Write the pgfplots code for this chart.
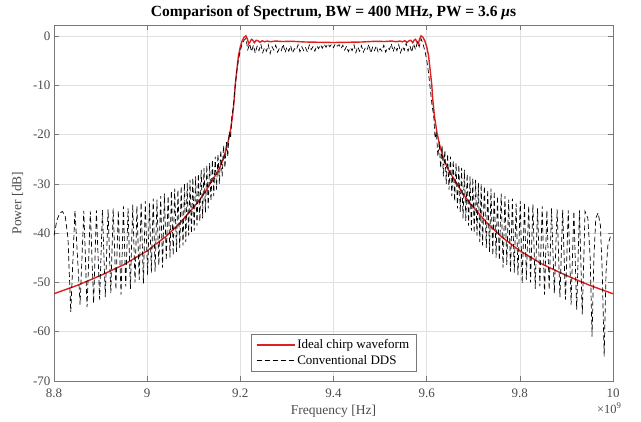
\documentclass[border=0pt]{standalone}
\usepackage{fontspec}
\setmainfont{Liberation Serif}
\usepackage{pgfplots}
\pgfplotsset{compat=1.18}
\definecolor{idealred}{RGB}{222,32,32}
\definecolor{axgray}{RGB}{120,120,120}
\definecolor{txtgray}{RGB}{75,75,75}
\begin{document}
\begin{tikzpicture}
\begin{axis}[
 scale only axis, width=559pt, height=356pt,
 xmin=8.8, xmax=10, ymin=-70, ymax=2.2,
 xtick={8.8,9,9.2,9.4,9.6,9.8,10},
 ytick={-70,-60,-50,-40,-30,-20,-10,0},
 grid=major, major grid style={black!12, line width=0.4pt},
 axis line style={axgray, line width=0.6pt},
 major tick length=5pt, tick style={axgray, line width=0.5pt},
 /pgf/number format/assume math mode=true,
 ticklabel style={font=\fontsize{13}{15}\selectfont, text=txtgray},
 xticklabel style={yshift=-4pt},
 xlabel={Frequency [Hz]}, ylabel={Power [dB]},
 xlabel style={yshift=-1pt},
 ylabel style={yshift=3pt},
 label style={font=\fontsize{13.5}{16}\selectfont, text=txtgray},
 title={Comparison of Spectrum, BW = 400 MHz, PW = 3.6 \textit{μ}s},
 title style={font=\fontsize{15.5}{18}\selectfont\bfseries, yshift=-4pt},
 legend style={at={(0.5,0.028)}, anchor=south, draw=axgray, font=\fontsize{13}{15}\selectfont, row sep=1pt, inner xsep=5pt, inner ysep=3pt},
 legend cell align=left,
 legend image code/.code={\draw[#1] (0pt,0pt) -- (38pt,0pt);},
]
\addplot[draw=idealred, line width=1.4pt] coordinates {
(8.800,-52.3) (8.850,-50.6) (8.900,-48.6) (8.950,-46.4) (9.000,-43.6) (9.040,-40.7) (9.070,-38.0) (9.092,-35.6) (9.110,-33.6) (9.125,-31.6) (9.135,-30.0) (9.145,-28.5) (9.155,-26.9) (9.164,-24.8) (9.172,-22.2) (9.178,-19.6) (9.183,-16.5) (9.187,-12.8) (9.189,-10.0) (9.193,-6.5) (9.196,-4.0) (9.200,-2.2) (9.204,-1.0) (9.208,-0.3) (9.212,0.0) (9.215,-0.6) (9.218,-1.6) (9.221,-1.2) (9.224,-0.7) (9.227,-0.9) (9.230,-1.4) (9.234,-0.9) (9.238,-1.0) (9.242,-1.3) (9.247,-1.0) (9.252,-1.2) (9.258,-1.05) (9.265,-1.2) (9.275,-1.05) (9.290,-1.15) (9.310,-1.1) (9.340,-1.25) (9.370,-1.3) (9.400,-1.35)
(9.430,-1.3) (9.460,-1.25) (9.490,-1.1) (9.510,-1.15) (9.525,-1.05) (9.535,-1.2) (9.542,-1.05) (9.548,-1.2) (9.553,-1.0) (9.558,-1.3) (9.562,-1.0) (9.566,-0.9) (9.570,-1.4) (9.573,-0.9) (9.576,-0.7) (9.579,-1.2) (9.582,-1.6) (9.585,-0.6) (9.588,0.0) (9.592,-0.3) (9.596,-1.0) (9.600,-2.2) (9.604,-4.0) (9.607,-6.5) (9.611,-10.0) (9.613,-12.8) (9.617,-16.5) (9.622,-19.6) (9.628,-22.2) (9.636,-24.8) (9.645,-26.9) (9.655,-28.5) (9.665,-30.0) (9.675,-31.6) (9.690,-33.6) (9.708,-35.6) (9.730,-38.0) (9.760,-40.7) (9.800,-43.6) (9.850,-46.4) (9.900,-48.6) (9.950,-50.6) (10.000,-52.3)
};
\addlegendentry{Ideal chirp waveform}
\addplot[draw=black, line width=0.7pt, dash pattern=on 5pt off 3pt] coordinates {
(8.800,-40.5) (8.806,-37.5) (8.812,-36.0) (8.818,-35.6) (8.824,-36.5) (8.830,-41.0) (8.836,-56.0) (8.845,-35.4) (8.856,-54.5) (8.864,-35.5) (8.871,-55.0) (8.878,-35.6) (8.885,-54.2) (8.891,-35.4) (8.898,-53.5) (8.904,-35.3) (8.910,-53.0) (8.916,-35.2) (8.922,-52.2) (8.927,-35.0) (8.933,-51.5) (8.938,-35.4) (8.944,-52.5) (8.949,-34.6) (8.954,-50.8) (8.959,-35.0) (8.964,-51.3) (8.969,-34.2) (8.974,-50.0) (8.978,-34.5) (8.983,-49.5) (8.987,-33.8) (8.992,-50.2) (8.996,-33.5) (9.001,-48.5) (9.005,-34.0) (9.009,-48.0) (9.013,-33.0) (9.017,-47.8) (9.021,-33.2) (9.025,-46.5) (9.029,-32.5) (9.033,-47.0) (9.037,-32.0) (9.041,-45.5) (9.045,-32.5) (9.049,-45.0) (9.052,-31.5) (9.056,-44.5) (9.059,-31.0) (9.063,-43.8) (9.066,-31.2) (9.070,-43.0) (9.073,-30.5) (9.077,-42.5) (9.080,-30.0) (9.083,-41.8) (9.086,-29.8) (9.089,-40.5) (9.092,-29.2) (9.095,-40.0) (9.098,-28.8) (9.101,-39.5) (9.104,-28.5) (9.107,-38.5) (9.110,-28.0) (9.113,-37.6) (9.116,-27.2) (9.119,-37.0) (9.122,-26.8) (9.125,-35.8) (9.128,-26.2) (9.131,-35.0) (9.134,-25.8) (9.137,-33.5) (9.140,-25.2) (9.143,-32.5) (9.146,-24.5) (9.149,-31.2) (9.152,-24.0) (9.155,-30.0) (9.158,-23.2) (9.161,-28.5) (9.164,-22.2) (9.167,-26.8) (9.170,-21.5) (9.173,-24.5) (9.176,-19.5) (9.179,-20.8) (9.182,-16.0) (9.185,-14.5) (9.188,-11.0) (9.192,-7.5) (9.196,-4.8) (9.200,-3.0) (9.204,-1.6) (9.208,-0.9) (9.212,-0.5)
(9.216,-2.8) (9.220,-1.6) (9.224,-3.2) (9.228,-1.9) (9.232,-3.5) (9.236,-2.1) (9.240,-3.0) (9.244,-1.7) (9.248,-3.4) (9.252,-2.4) (9.256,-3.1) (9.260,-1.8) (9.264,-3.6) (9.268,-2.2) (9.272,-2.9) (9.276,-1.9) (9.280,-3.3) (9.284,-2.5) (9.288,-3.0) (9.292,-1.7) (9.296,-3.4) (9.300,-2.3) (9.304,-3.1) (9.308,-2.0) (9.312,-3.5) (9.316,-2.6) (9.320,-2.9) (9.324,-1.8) (9.328,-3.2) (9.332,-2.2) (9.336,-3.0) (9.340,-2.4) (9.344,-3.3) (9.348,-1.9) (9.352,-2.8) (9.356,-2.2) (9.360,-3.1) (9.364,-2.0) (9.368,-2.6) (9.372,-1.8) (9.376,-2.5) (9.380,-1.7) (9.384,-2.3) (9.388,-1.6) (9.392,-2.2) (9.396,-1.7) (9.400,-2.4) (9.404,-1.6) (9.408,-2.1) (9.412,-1.8) (9.416,-2.6) (9.420,-1.9) (9.424,-2.9) (9.428,-2.1) (9.432,-3.2) (9.436,-2.4) (9.440,-3.0) (9.444,-1.8) (9.448,-3.4) (9.452,-2.2) (9.456,-3.1) (9.460,-2.0) (9.464,-3.3) (9.468,-2.5) (9.472,-2.9) (9.476,-1.7) (9.480,-3.5) (9.484,-2.3) (9.488,-3.0) (9.492,-2.0) (9.496,-3.4) (9.500,-2.6) (9.504,-3.1) (9.508,-1.9) (9.512,-3.3) (9.516,-2.4) (9.520,-2.8) (9.524,-1.6) (9.528,-3.2) (9.532,-2.1) (9.536,-3.0) (9.540,-1.8) (9.544,-3.4) (9.548,-2.2) (9.552,-2.9) (9.556,-1.5) (9.560,-3.1) (9.564,-2.0) (9.568,-3.3) (9.572,-1.6) (9.576,-2.8) (9.580,-1.3) (9.584,-2.2) (9.588,-0.6)
(9.592,-1.6) (9.596,-3.0) (9.600,-4.8) (9.604,-7.5) (9.608,-11.0) (9.612,-14.5) (9.615,-16.0) (9.618,-20.8) (9.621,-19.5) (9.624,-24.5) (9.627,-21.5) (9.630,-26.8) (9.633,-22.2) (9.636,-28.5) (9.639,-23.2) (9.642,-30.0) (9.645,-24.0) (9.648,-31.2) (9.651,-24.5) (9.654,-32.5) (9.657,-25.2) (9.660,-33.5) (9.663,-25.8) (9.666,-35.0) (9.669,-26.2) (9.672,-35.8) (9.675,-26.8) (9.678,-37.0) (9.681,-27.2) (9.684,-37.6) (9.687,-28.0) (9.690,-38.5) (9.693,-28.5) (9.696,-39.5) (9.699,-28.8) (9.702,-40.0) (9.705,-29.2) (9.708,-40.5) (9.711,-29.8) (9.714,-41.8) (9.717,-30.0) (9.720,-42.5) (9.724,-30.5) (9.728,-43.0) (9.731,-31.2) (9.735,-43.8) (9.738,-31.0) (9.742,-44.5) (9.745,-31.5) (9.749,-45.0) (9.752,-32.5) (9.756,-45.5) (9.760,-32.0) (9.764,-47.0) (9.768,-32.5) (9.772,-46.5) (9.776,-33.2) (9.780,-47.8) (9.784,-33.0) (9.788,-48.0) (9.792,-34.0) (9.796,-48.5) (9.801,-33.5) (9.805,-50.2) (9.810,-33.8) (9.814,-49.5) (9.819,-34.5) (9.823,-50.0) (9.828,-34.2) (9.833,-51.3) (9.838,-35.0) (9.843,-50.8) (9.848,-34.6) (9.853,-52.5) (9.858,-35.4) (9.863,-51.5) (9.868,-35.0) (9.874,-52.2) (9.880,-35.2) (9.886,-53.0) (9.892,-35.3) (9.898,-53.5) (9.904,-35.4) (9.910,-54.5) (9.916,-35.6) (9.922,-55.5) (9.928,-35.4) (9.934,-56.5) (9.940,-35.6) (9.946,-37.0) (9.951,-45.0) (9.955,-61.0) (9.959,-45.0) (9.963,-37.0) (9.968,-35.9) (9.973,-38.5) (9.977,-48.0) (9.981,-65.0) (9.985,-48.0) (9.989,-42.5) (9.994,-40.8) (10.000,-40.5)
};
\addlegendentry{Conventional DDS}
\end{axis}
\node[anchor=base east, font=\fontsize{12.5}{14}\selectfont, text=txtgray] at ([shift={(12pt,-32pt)}]current axis.south east) {×10\textsuperscript{9}};
\path ([shift={(-54pt,-40pt)}]current axis.south west) rectangle ([shift={(28pt,25pt)}]current axis.north east);
\end{tikzpicture}
\end{document}
